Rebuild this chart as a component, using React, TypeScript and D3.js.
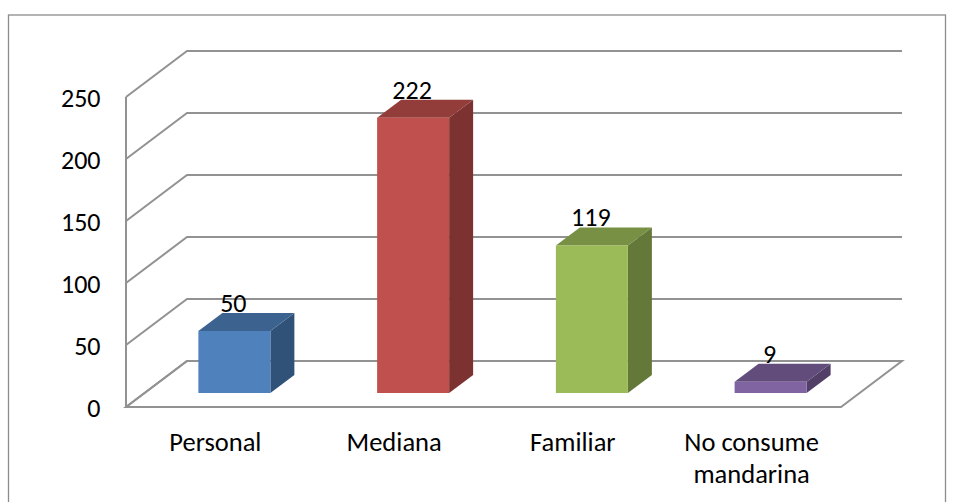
import React from "react";
import * as d3 from "d3";

const categories = ["Personal", "Mediana", "Familiar", "No consume mandarina"];
const values = [50, 222, 119, 9];
const frontColors = ["#4f81bd", "#c0504d", "#9bbb59", "#8064a2"];
const topColors = ["#3c6290", "#933d3b", "#779044", "#624c7c"];
const sideColors = ["#315278", "#7b3231", "#637839", "#523f68"];
const yTicks = [0, 50, 100, 150, 200, 250];
const labelLines = [["Personal"], ["Mediana"], ["Familiar"], ["No consume", "mandarina"]];

const W = 953, H = 502;
const left = 126, right = 841, bottom = 407, top = 97;
const depthX = 61, depthY = 46;
const barDepthX = 24, barDepthY = 18;
const barFrontOffsetY = 14;
const gridC = "#929292";
const font = "Carlito, Lato, 'Open Sans', sans-serif";

export default function App() {
  const y = d3.scaleLinear().domain([0, 250]).range([bottom, top]);
  const x = d3.scaleBand().domain(categories).range([left, right]);
  const barW = 72;
  const barBase = bottom - barFrontOffsetY;
  const h = (v: number) => y(0) - y(v);
  return (
    <svg width={W} height={H} style={{ position: "absolute", left: 0, top: 0, background: "#fff" }}>
      <rect x={8.5} y={15} width={937} height={495} fill="#fff" stroke="#8c8c8c" strokeWidth={1.3} />
      <path
        d={`M${left},${bottom}L${left + depthX},${bottom - depthY}L${right + depthX},${bottom - depthY}L${right},${bottom}Z`}
        fill="none" stroke={gridC} strokeWidth={2}
      />
      {yTicks.map((t) => (
        <path key={t} fill="none" stroke={gridC} strokeWidth={2}
          d={`M${left},${y(t)}L${left + depthX},${y(t) - depthY}L${right + depthX},${y(t) - depthY}`} />
      ))}
      <line x1={left} x2={left} y1={top} y2={bottom} stroke={gridC} strokeWidth={2} />
      <line x1={left} x2={right} y1={bottom} y2={bottom} stroke={gridC} strokeWidth={2} />
      {yTicks.map((t) => (
        <text key={t} x={100.5} y={y(t) + 10} textAnchor="end" fontFamily={font} fontSize={26} fill="#000">{t}</text>
      ))}
      {categories.map((c, i) => {
        const x0 = x(c)! + (x.bandwidth() - barW) / 2 + barDepthX - 5;
        const x1 = x0 + barW;
        const yt = barBase - h(values[i]);
        return (
          <g key={c}>
            <path fill={sideColors[i]} d={`M${x1},${yt}L${x1 + barDepthX},${yt - barDepthY}L${x1 + barDepthX},${barBase - barDepthY}L${x1},${barBase}Z`} />
            <path fill={topColors[i]} d={`M${x0},${yt}L${x0 + barDepthX},${yt - barDepthY}L${x1 + barDepthX},${yt - barDepthY}L${x1},${yt}Z`} />
            <rect x={x0} y={yt} width={barW} height={h(values[i])} fill={frontColors[i]} />
            <text x={x0 + 35} y={yt - 19} textAnchor="middle" fontFamily={font} fontSize={26} fill="#000">{values[i]}</text>
          </g>
        );
      })}
      {categories.map((c, i) => (
        <text key={c} textAnchor="middle" fontFamily={font} fontSize={26.5} fill="#000">
          {labelLines[i].map((l, j) => (
            <tspan key={l} x={x(c)! + x.bandwidth() / 2} y={451 + j * 32}>{l}</tspan>
          ))}
        </text>
      ))}
    </svg>
  );
}
